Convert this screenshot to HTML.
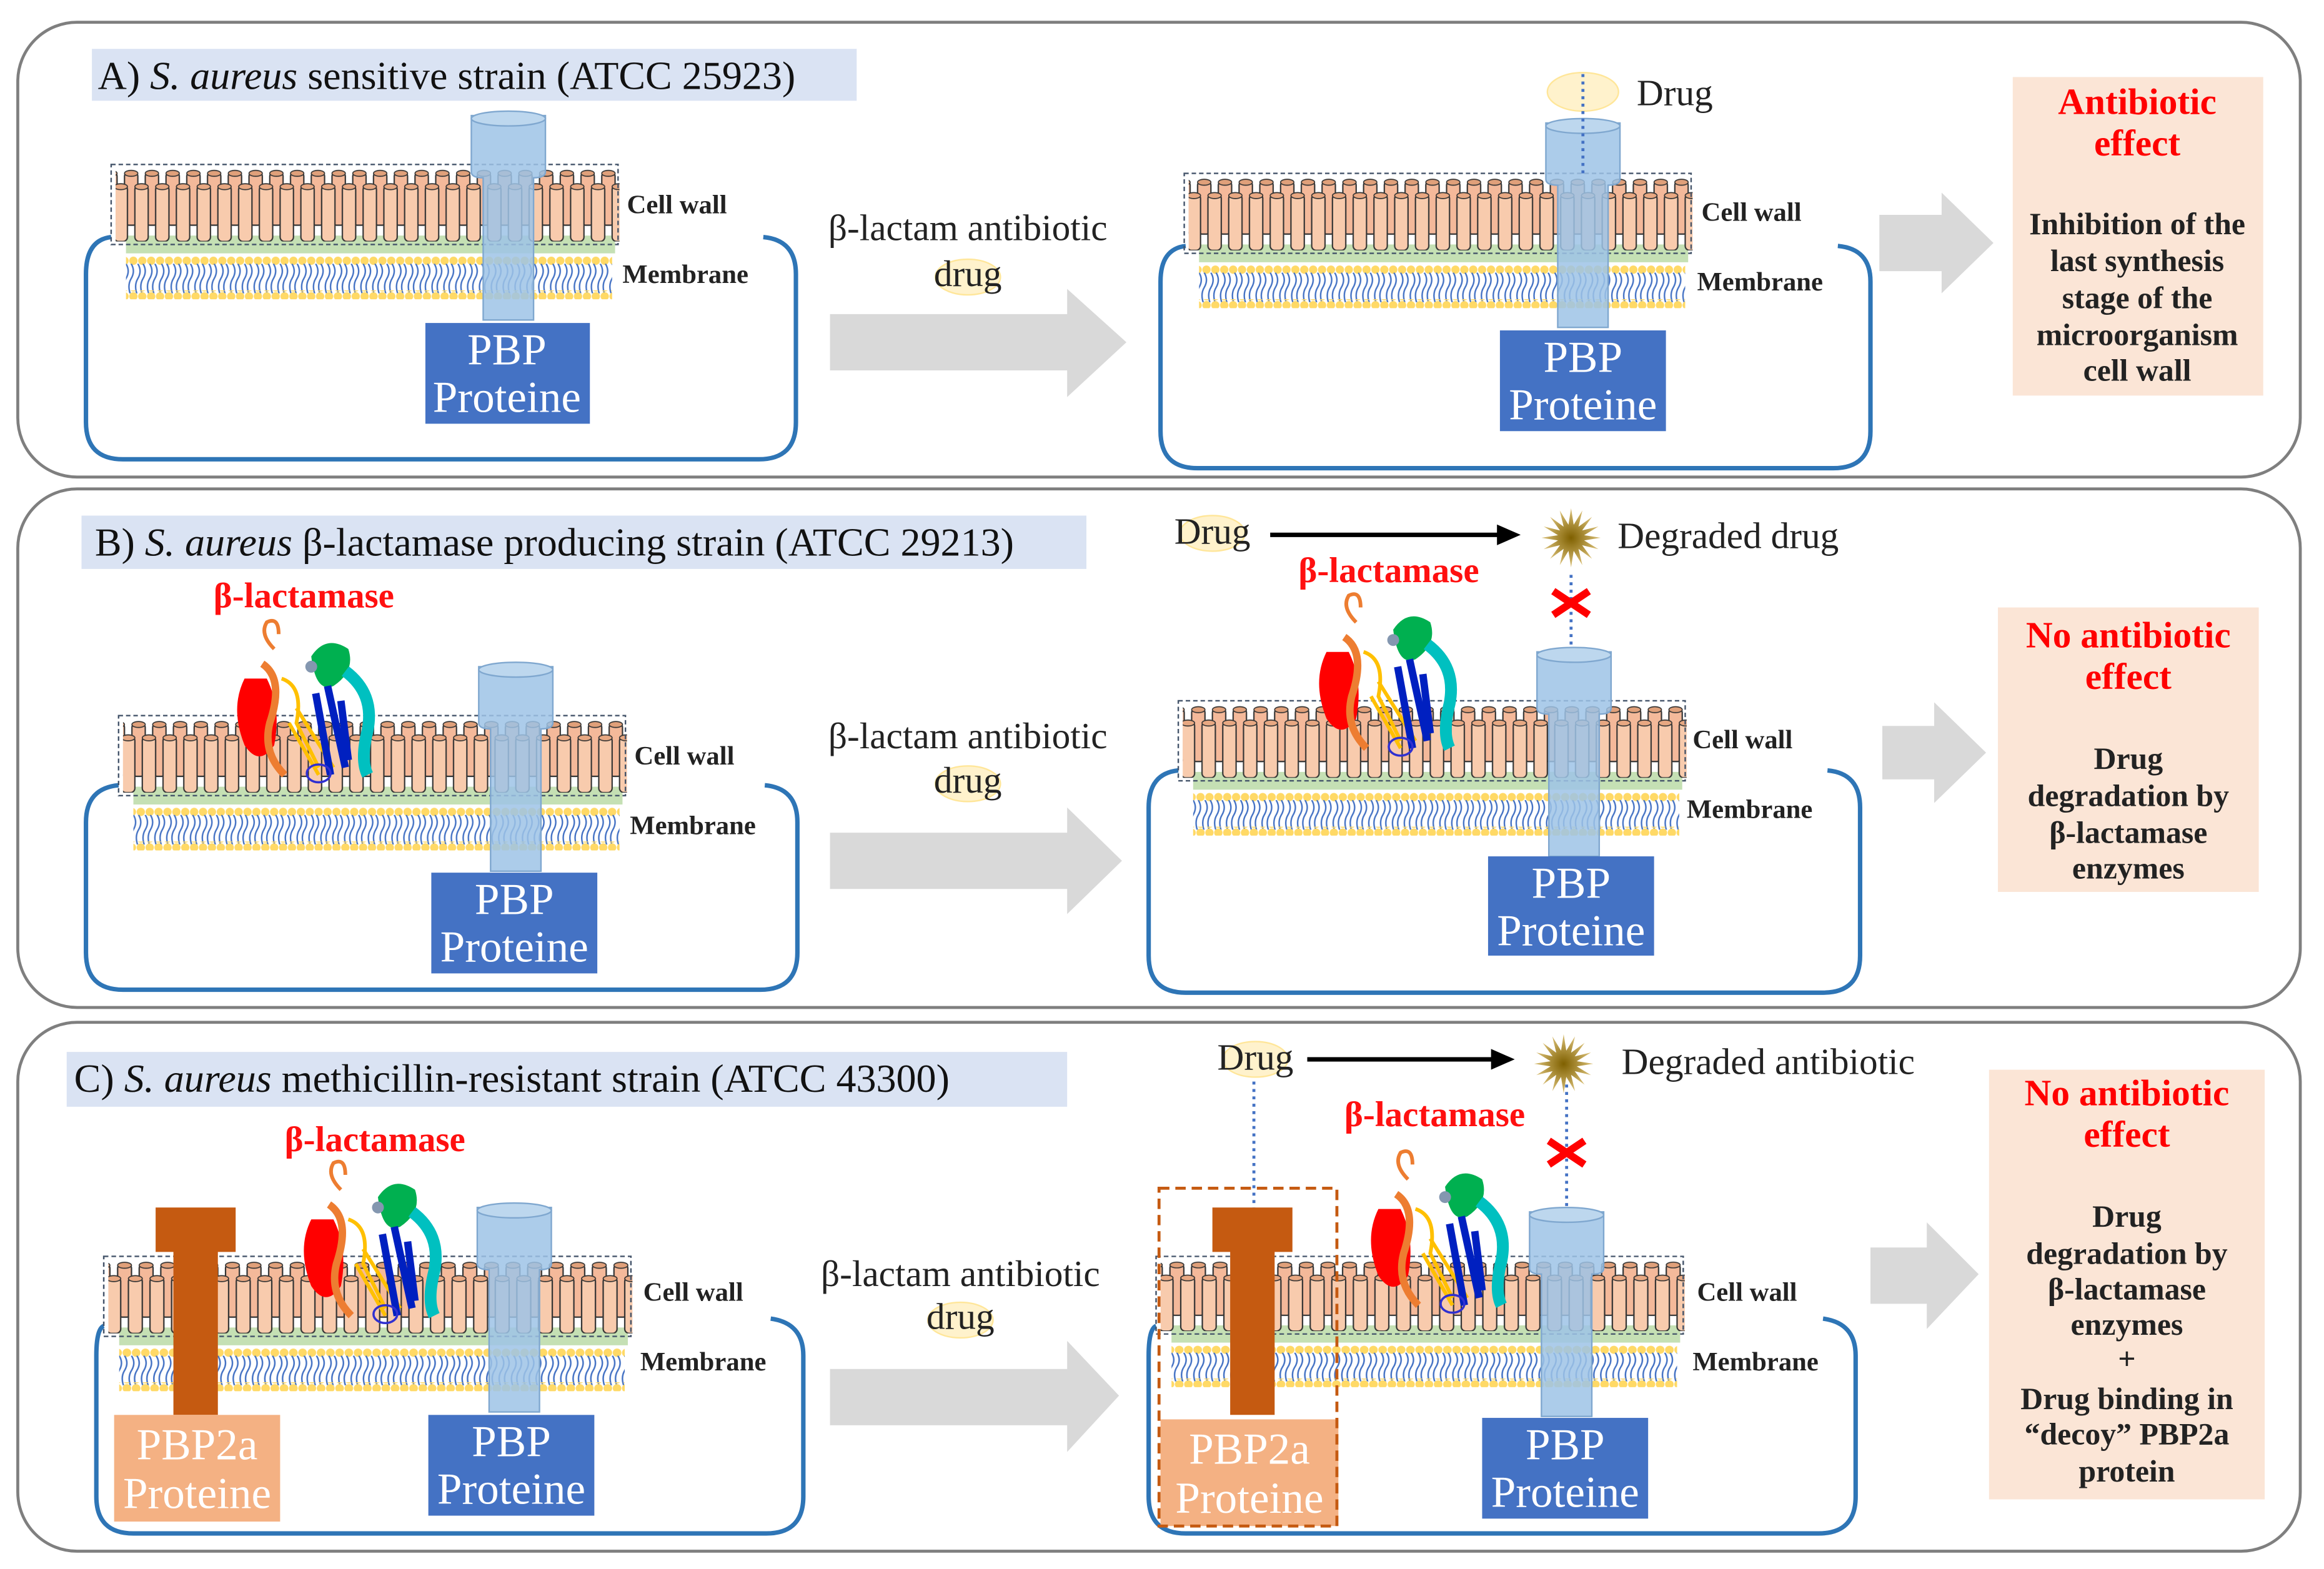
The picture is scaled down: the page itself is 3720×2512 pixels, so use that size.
<!DOCTYPE html>
<html><head><meta charset="utf-8">
<style>
html,body{margin:0;padding:0;background:#fff;}
svg{display:block;}
text{font-family:"Liberation Serif",serif;}
.t{font-size:27px;fill:#111;}
.lb{font-size:18px;font-weight:bold;fill:#222;}
.mid{font-size:25px;fill:#222;text-anchor:middle;}
.pbp{font-size:30px;fill:#fff;text-anchor:middle;}
.red{font-size:25px;font-weight:bold;fill:#ff0000;text-anchor:middle;}
.res{font-size:21px;font-weight:bold;fill:#222;text-anchor:middle;}
.bl{font-size:24px;font-weight:bold;fill:#ff1010;text-anchor:middle;}
</style></head><body>
<svg width="3720" height="2512" viewBox="0 0 1568 1059" preserveAspectRatio="none" xmlns="http://www.w3.org/2000/svg">
<defs>
<pattern id="cyl1" patternUnits="userSpaceOnUse" width="14" height="60" x="0" y="0">
 <rect x="2" y="14" width="9" height="38" rx="3" fill="#f8cbad" stroke="#333" stroke-width="0.9"/>
 <ellipse cx="6.5" cy="15" rx="4.5" ry="2" fill="#e8a882" stroke="#333" stroke-width="0.7"/>
</pattern>
<pattern id="cyl2" patternUnits="userSpaceOnUse" width="14" height="60" x="7" y="-7">
 <rect x="2" y="12" width="9" height="36" rx="3" fill="#f4b99a" stroke="#333" stroke-width="0.9"/>
 <ellipse cx="6.5" cy="13" rx="4.5" ry="2" fill="#e0a07a" stroke="#333" stroke-width="0.7"/>
</pattern>
<pattern id="lip" patternUnits="userSpaceOnUse" width="8" height="22" x="0" y="67">
 <path d="M2 0 q3 5 0 10 q-3 5 0 12" stroke="#4472c4" fill="none" stroke-width="1"/>
 <path d="M5.5 0 q3 5 0 10 q-3 5 0 12" stroke="#4472c4" fill="none" stroke-width="1"/>
</pattern>
<pattern id="dots" patternUnits="userSpaceOnUse" width="6" height="6" x="0" y="62">
 <circle cx="3" cy="3" r="2.8" fill="#ffd966"/>
</pattern>
<radialGradient id="burst"><stop offset="0" stop-color="#7f6000"/><stop offset="1" stop-color="#dcc27a"/></radialGradient>
<symbol id="mem" overflow="visible">
 <rect x="10" y="48" width="330" height="12" fill="#c5e0b4"/>
 <rect x="3" y="2" width="340" height="46" fill="url(#cyl2)"/>
 <rect x="3" y="6" width="340" height="46" fill="url(#cyl1)"/>
 <rect x="0" y="0" width="342" height="54" fill="none" stroke="#44546a" stroke-width="1" stroke-dasharray="3,2"/>
 <rect x="10" y="62" width="328" height="6" fill="url(#dots)"/>
 <rect x="10" y="67" width="328" height="20" fill="url(#lip)"/>
 <rect x="10" y="85" width="328" height="6" fill="url(#dots)"/>
</symbol>
<symbol id="chan" overflow="visible">
 <path d="M0 0 L0 38 Q0 42 8 42 L8 138 L42 138 L42 42 Q50 42 50 38 L50 0 Z" fill="#9dc3e6" fill-opacity="0.85" stroke="#7fa7cf" stroke-width="1"/>
 <ellipse cx="25" cy="2" rx="25" ry="5" fill="#bdd7ee" stroke="#7fa7cf" stroke-width="1"/>
</symbol>
<symbol id="chan2" overflow="visible">
 <path d="M0 0 L0 30 L12 30 L12 140 L42 140 L42 30 L54 30 L54 0 Z" fill="#c55a11"/>
</symbol>
<symbol id="prot" overflow="visible">
 <path d="M30 20 q-10 -10 -5 -18 q8 -4 8 8" stroke="#ed7d31" stroke-width="2.5" fill="none"/>
 <path d="M10 40 q-10 20 0 45 q10 15 20 0 q5 -25 -5 -45 z" fill="#ff0000"/>
 <path d="M22 30 q15 10 5 40 q-5 20 10 35" stroke="#ed7d31" stroke-width="5" fill="none"/>
 <path d="M35 40 q15 5 10 30 l15 30 M40 70 l20 35 M45 60 l25 40" stroke="#ffc000" stroke-width="2.5" fill="none"/>
 <path d="M55 25 q10 -15 25 -5 q5 15 -10 25 q-12 5 -15 -20z" fill="#00b050"/>
 <circle cx="55" cy="32" r="4" fill="#8497b0"/>
 <path d="M58 50 l10 55 M66 45 l12 55 M75 55 l5 40" stroke="#0020c0" stroke-width="5" fill="none"/>
 <path d="M78 35 q20 15 15 40 q-5 20 0 30" stroke="#00c0c0" stroke-width="8" fill="none"/>
 <ellipse cx="60" cy="104" rx="8" ry="6" stroke="#3030d0" stroke-width="1.5" fill="none"/>
</symbol>
<polygon id="star" points="20,0 8.83,1.76 18.48,7.65 7.48,5 14.14,14.14 5,7.48 7.65,18.48 1.76,8.83 0,20 -1.76,8.83 -7.65,18.48 -5,7.48 -14.14,14.14 -7.48,5 -18.48,7.65 -8.83,1.76 -20,0 -8.83,-1.76 -18.48,-7.65 -7.48,-5 -14.14,-14.14 -5,-7.48 -7.65,-18.48 -1.76,-8.83 0,-20 1.76,-8.83 7.65,-18.48 5,-7.48 14.14,-14.14 7.48,-5 18.48,-7.65 8.83,-1.76" fill="url(#burst)"/>
<g id="redx"><path d="M-12 -8 L12 8 M-12 8 L12 -8" stroke="#ff0000" stroke-width="5"/></g>
</defs>

<rect x="12" y="15" width="1540" height="307" rx="40" fill="#fff" stroke="#7f7f7f" stroke-width="2"/>
<rect x="12" y="330" width="1540" height="350" rx="40" fill="#fff" stroke="#7f7f7f" stroke-width="2"/>
<rect x="12" y="690" width="1540" height="357" rx="40" fill="#fff" stroke="#7f7f7f" stroke-width="2"/>

<!-- ===== A ===== -->
<rect x="62" y="33" width="516" height="35" fill="#dae3f3"/>
<text class="t" x="66" y="60">A) <tspan font-style="italic">S. aureus</tspan> sensitive strain (ATCC 25923)</text>
<path d="M75 160 Q58 162 58 185 L58 285 Q58 310 83 310 L512 310 Q537 310 537 285 L537 185 Q537 162 515 160" fill="none" stroke="#2e75b6" stroke-width="3"/>
<use href="#mem" x="75" y="111"/>
<use href="#chan" x="318" y="78"/>
<rect x="287" y="218" width="111" height="68" fill="#4472c4"/>
<text class="pbp" x="342" y="246">PBP</text><text class="pbp" x="342" y="278">Proteine</text>
<text class="lb" x="423" y="144">Cell wall</text><text class="lb" x="420" y="191">Membrane</text>
<text class="mid" x="653" y="162">β-lactam antibiotic</text>
<ellipse cx="653" cy="187" rx="22" ry="12" fill="#fff2cc" stroke="#ffe699"/>
<text class="mid" x="653" y="193">drug</text>
<polygon points="560,212 720,212 720,195 760,231 720,268 720,250 560,250" fill="#d9d9d9"/>

<path d="M800 166 Q783 168 783 190 L783 291 Q783 316 808 316 L1237 316 Q1262 316 1262 291 L1262 190 Q1262 168 1240 166" fill="none" stroke="#2e75b6" stroke-width="3"/>
<use href="#mem" x="799" y="117"/>
<use href="#chan" x="1043" y="83"/>
<ellipse cx="1068" cy="62" rx="24" ry="13" fill="#fff2cc" stroke="#ffe699"/>
<line x1="1068" y1="50" x2="1068" y2="118" stroke="#4472c4" stroke-width="2" stroke-dasharray="2,3"/>
<text class="mid" x="1130" y="71">Drug</text>
<rect x="1012" y="223" width="112" height="68" fill="#4472c4"/>
<text class="pbp" x="1068" y="251">PBP</text><text class="pbp" x="1068" y="283">Proteine</text>
<text class="lb" x="1148" y="149">Cell wall</text><text class="lb" x="1145" y="196">Membrane</text>
<polygon points="1268,145 1310,145 1310,130 1345,164 1310,198 1310,183 1268,183" fill="#d9d9d9"/>
<rect x="1358" y="52" width="169" height="215" fill="#fbe5d6"/>
<text class="red" x="1442" y="77">Antibiotic</text><text class="red" x="1442" y="105">effect</text>
<text class="res" x="1442" y="158">Inhibition of the</text><text class="res" x="1442" y="183">last synthesis</text>
<text class="res" x="1442" y="208">stage of the</text><text class="res" x="1442" y="233">microorganism</text>
<text class="res" x="1442" y="257">cell wall</text>

<!-- ===== B ===== -->
<rect x="55" y="348" width="678" height="36" fill="#dae3f3"/>
<text class="t" x="64" y="375">B) <tspan font-style="italic">S. aureus</tspan> β-lactamase producing strain (ATCC 29213)</text>
<text class="bl" x="205" y="410">β-lactamase</text>
<path d="M80 530 Q58 532 58 555 L58 643 Q58 668 83 668 L513 668 Q538 668 538 643 L538 555 Q538 532 516 530" fill="none" stroke="#2e75b6" stroke-width="3"/>
<use href="#mem" x="80" y="483"/>
<use href="#prot" x="155" y="418"/>
<use href="#chan" x="323" y="450"/>
<rect x="291" y="589" width="112" height="68" fill="#4472c4"/>
<text class="pbp" x="347" y="617">PBP</text><text class="pbp" x="347" y="649">Proteine</text>
<text class="lb" x="428" y="516">Cell wall</text><text class="lb" x="425" y="563">Membrane</text>
<text class="mid" x="653" y="505">β-lactam antibiotic</text>
<ellipse cx="653" cy="529" rx="22" ry="12" fill="#fff2cc" stroke="#ffe699"/>
<text class="mid" x="653" y="535">drug</text>
<polygon points="560,562 720,562 720,545 757,581 720,617 720,600 560,600" fill="#d9d9d9"/>

<ellipse cx="818" cy="360" rx="22" ry="12" fill="#fff2cc" stroke="#ffe699"/>
<text class="mid" x="818" y="367">Drug</text>
<line x1="857" y1="361" x2="1012" y2="361" stroke="#000" stroke-width="3"/>
<polygon points="1010,354 1026,361 1010,368" fill="#000"/>
<use href="#star" transform="translate(1060,363)"/>
<text class="mid" x="1166" y="370">Degraded drug</text>
<text class="bl" x="937" y="393">β-lactamase</text>
<line x1="1060" y1="388" x2="1060" y2="440" stroke="#4472c4" stroke-width="2" stroke-dasharray="2,3"/>
<use href="#redx" transform="translate(1060,407)"/>
<path d="M795 520 Q775 522 775 545 L775 645 Q775 670 800 670 L1230 670 Q1255 670 1255 645 L1255 545 Q1255 522 1233 520" fill="none" stroke="#2e75b6" stroke-width="3"/>
<use href="#mem" x="795" y="473"/>
<use href="#prot" x="885" y="400"/>
<use href="#chan" x="1037" y="440"/>
<rect x="1004" y="578" width="112" height="67" fill="#4472c4"/>
<text class="pbp" x="1060" y="606">PBP</text><text class="pbp" x="1060" y="638">Proteine</text>
<text class="lb" x="1142" y="505">Cell wall</text><text class="lb" x="1138" y="552">Membrane</text>
<polygon points="1270,490 1305,490 1305,474 1340,508 1305,542 1305,526 1270,526" fill="#d9d9d9"/>
<rect x="1348" y="410" width="176" height="192" fill="#fbe5d6"/>
<text class="red" x="1436" y="437">No antibiotic</text><text class="red" x="1436" y="465">effect</text>
<text class="res" x="1436" y="519">Drug</text><text class="res" x="1436" y="544">degradation by</text>
<text class="res" x="1436" y="569">β-lactamase</text><text class="res" x="1436" y="593">enzymes</text>

<!-- ===== C ===== -->
<rect x="45" y="710" width="675" height="37" fill="#dae3f3"/>
<text class="t" x="50" y="737">C) <tspan font-style="italic">S. aureus</tspan> methicillin-resistant strain (ATCC 43300)</text>
<text class="bl" x="253" y="777">β-lactamase</text>
<path d="M70 895 Q65 897 65 915 L65 1010 Q65 1035 90 1035 L517 1035 Q542 1035 542 1010 L542 915 Q542 893 520 890" fill="none" stroke="#2e75b6" stroke-width="3"/>
<use href="#mem" transform="translate(70,848) scale(1.04,1)"/>
<use href="#chan2" x="105" y="815"/>
<use href="#prot" x="200" y="783"/>
<use href="#chan" x="322" y="815"/>
<rect x="77" y="955" width="112" height="72" fill="#f4b183"/>
<text class="pbp" x="133" y="985">PBP2a</text><text class="pbp" x="133" y="1018">Proteine</text>
<rect x="289" y="955" width="112" height="68" fill="#4472c4"/>
<text class="pbp" x="345" y="983">PBP</text><text class="pbp" x="345" y="1015">Proteine</text>
<text class="lb" x="434" y="878">Cell wall</text><text class="lb" x="432" y="925">Membrane</text>
<text class="mid" x="648" y="868">β-lactam antibiotic</text>
<ellipse cx="648" cy="891" rx="22" ry="12" fill="#fff2cc" stroke="#ffe699"/>
<text class="mid" x="648" y="897">drug</text>
<polygon points="560,924 720,924 720,905 755,942 720,980 720,962 560,962" fill="#d9d9d9"/>

<ellipse cx="847" cy="715" rx="22" ry="12" fill="#fff2cc" stroke="#ffe699"/>
<text class="mid" x="847" y="722">Drug</text>
<line x1="882" y1="715" x2="1008" y2="715" stroke="#000" stroke-width="3"/>
<polygon points="1006,708 1022,715 1006,722" fill="#000"/>
<use href="#star" transform="translate(1055,718)"/>
<text class="mid" x="1193" y="725">Degraded antibiotic</text>
<text class="bl" x="968" y="760">β-lactamase</text>
<line x1="846" y1="730" x2="846" y2="822" stroke="#4472c4" stroke-width="2" stroke-dasharray="2,3"/>
<line x1="1057" y1="732" x2="1057" y2="822" stroke="#4472c4" stroke-width="2" stroke-dasharray="2,3"/>
<use href="#redx" transform="translate(1057,778)"/>
<path d="M780 895 Q775 897 775 915 L775 1010 Q775 1035 800 1035 L1227 1035 Q1252 1035 1252 1010 L1252 915 Q1252 893 1230 890" fill="none" stroke="#2e75b6" stroke-width="3"/>
<use href="#mem" transform="translate(780,848) scale(1.04,0.97)"/>
<use href="#chan2" x="818" y="815"/>
<use href="#prot" x="920" y="776"/>
<use href="#chan" x="1032" y="818"/>
<rect x="783" y="958" width="120" height="72" fill="#f4b183"/>
<text class="pbp" x="843" y="988">PBP2a</text><text class="pbp" x="843" y="1021">Proteine</text>
<rect x="782" y="802" width="120" height="228" fill="none" stroke="#c55a11" stroke-width="2" stroke-dasharray="7,4"/>
<rect x="1000" y="957" width="112" height="68" fill="#4472c4"/>
<text class="pbp" x="1056" y="985">PBP</text><text class="pbp" x="1056" y="1017">Proteine</text>
<text class="lb" x="1145" y="878">Cell wall</text><text class="lb" x="1142" y="925">Membrane</text>
<polygon points="1262,842 1300,842 1300,825 1335,860 1300,897 1300,880 1262,880" fill="#d9d9d9"/>
<rect x="1342" y="722" width="186" height="290" fill="#fbe5d6"/>
<text class="red" x="1435" y="746">No antibiotic</text><text class="red" x="1435" y="774">effect</text>
<text class="res" x="1435" y="828">Drug</text><text class="res" x="1435" y="853">degradation by</text>
<text class="res" x="1435" y="877">β-lactamase</text><text class="res" x="1435" y="901">enzymes</text>
<text class="res" x="1435" y="924">+</text>
<text class="res" x="1435" y="951">Drug binding in</text><text class="res" x="1435" y="975">“decoy” PBP2a</text>
<text class="res" x="1435" y="1000">protein</text>
</svg>
</body></html>
